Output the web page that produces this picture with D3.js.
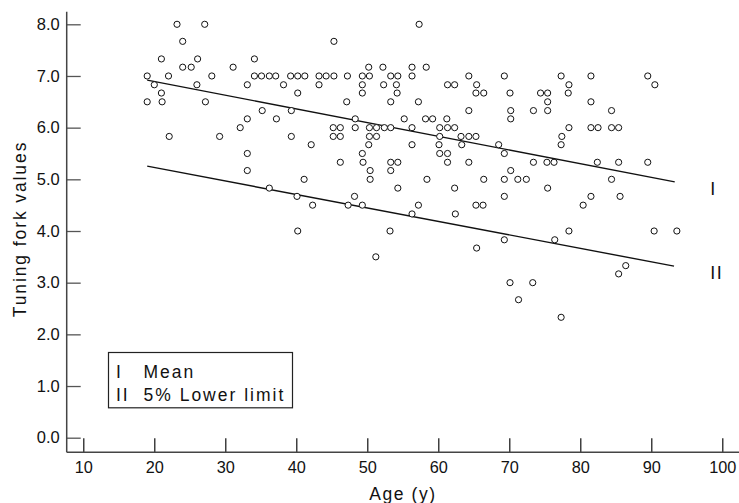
<!DOCTYPE html>
<html>
<head>
<meta charset="utf-8">
<script src="https://cdn.jsdelivr.net/npm/d3@7"></script>
<style>
  body { margin: 0; background: #fff; }
  svg { font-family: "Liberation Sans", Arial, sans-serif; }
</style>
</head>
<body>
<svg id="plotSvg" width="739" height="503"></svg>
<script>
// tuning fork value rows (in sixths) and the ages read at each row
const rowValues = [8.0, 7.67, 7.33, 7.17, 7.0, 6.83, 6.67, 6.5, 6.33, 6.17, 6.0, 5.83, 5.67, 5.5,
    5.33, 5.17, 5.0, 4.83, 4.67, 4.5, 4.33, 4.0, 3.83, 3.67, 3.5, 3.33, 3.17, 3.0, 2.67, 2.33];
const rowAges = [
    [23.2, 27.1, 57.3],
    [24.0, 45.3],
    [21.0, 26.1, 34.1],
    [24.0, 25.2, 31.1, 50.2, 52.2, 56.3, 58.3],
    [19.0, 22.0, 28.1, 34.1, 35.1, 36.2, 37.1, 39.2, 40.2, 41.2, 43.2, 44.2, 45.3, 47.2, 49.3, 50.3, 53.3, 54.3, 56.3, 64.3, 69.3, 77.3, 81.5, 89.5],
    [20.0, 26.0, 33.1, 38.2, 43.2, 49.3, 52.3, 54.1, 61.3, 62.3, 65.4, 78.4, 90.5],
    [21.0, 40.2, 49.3, 54.2, 65.3, 66.4, 70.1, 74.4, 75.4, 78.3],
    [19.0, 21.1, 27.2, 47.1, 53.3, 57.2, 75.4, 81.5],
    [35.2, 39.3, 64.3, 70.2, 73.4, 75.4, 84.4],
    [33.1, 37.2, 48.3, 55.2, 58.2, 59.2, 61.2, 70.2],
    [32.1, 45.2, 46.2, 48.3, 50.3, 51.3, 52.4, 53.3, 56.3, 60.2, 61.3, 62.3, 78.4, 81.5, 82.5, 84.4, 85.4],
    [22.1, 29.2, 39.3, 45.2, 46.2, 50.3, 51.3, 60.2, 63.2, 64.3, 65.3, 77.4],
    [42.1, 50.2, 56.3, 60.1, 63.3, 68.5, 77.3],
    [33.1, 49.3, 60.2, 61.3, 69.3],
    [46.2, 49.4, 53.3, 54.3, 61.3, 64.3, 73.4, 75.3, 76.3, 82.4, 85.4, 89.5],
    [33.1, 50.4, 53.3, 70.2],
    [41.1, 50.4, 58.4, 66.4, 69.3, 71.2, 72.4, 84.4],
    [36.2, 54.3, 62.3, 75.4],
    [40.1, 48.2, 69.3, 81.5, 85.6],
    [42.3, 47.3, 49.3, 57.2, 65.3, 66.3, 80.4],
    [56.3, 62.4],
    [40.2, 53.2, 78.4, 90.4, 93.6],
    [69.3, 76.4],
    [65.4],
    [51.2],
    [86.4],
    [85.4],
    [70.1, 73.3],
    [71.3],
    [77.3]
];

const meanLine = [[19, 6.92], [93.3, 4.95]];
const lowerLine = [[19, 5.255], [93.2, 3.32]];
const lineLabels = ["I", "II"];
const lineLabelVals = [4.816, 3.195];
const legendKeys = ["I", "II"];
const legendTexts = ["Mean", "5% Lower limit"];
const xTicks = [10, 20, 30, 40, 50, 60, 70, 80, 90, 100];
const yTicks = [0, 1, 2, 3, 4, 5, 6, 7, 8];

const points = [];
rowValues.forEach((v, i) => rowAges[i].forEach(a => points.push({ age: a, val: v })));

const svg = d3.select("#plotSvg");

const x = d3.scaleLinear().domain([10, 100]).range([83.3, 722.3]);
const y = d3.scaleLinear().domain([0, 8]).range([437.7, 24.3]);

const axisX = 66.7, axisY = 452.3;

// axes, ticks point inwards
svg.append("g")
    .attr("transform", `translate(${axisX},0)`)
    .call(d3.axisLeft(y).tickValues(yTicks).tickSize(-14).tickPadding(7).tickFormat(d3.format(".1f")))
    .call(g => g.select(".domain").remove())
    .call(g => g.selectAll("line").attr("stroke", "#555").attr("stroke-width", 1.3))
    .call(g => g.selectAll("text").attr("font-size", 16.5).attr("fill", "#111").attr("font-family", null));

svg.append("g")
    .attr("transform", `translate(0,${axisY})`)
    .call(d3.axisBottom(x).tickValues(xTicks).tickSize(-14).tickPadding(9.4))
    .call(g => g.select(".domain").remove())
    .call(g => g.selectAll("line").attr("stroke", "#111").attr("stroke-width", 1.2))
    .call(g => g.selectAll("text").attr("font-size", 16.3).attr("fill", "#111").attr("font-family", null));

svg.append("line")
    .attr("x1", axisX).attr("x2", axisX)
    .attr("y1", 11.7).attr("y2", axisY)
    .attr("stroke", "#444").attr("stroke-width", 1.5);
svg.append("line")
    .attr("x1", axisX).attr("x2", 739)
    .attr("y1", axisY).attr("y2", axisY)
    .attr("stroke", "#444").attr("stroke-width", 1.5);

// regression lines
const line = d3.line().x(d => x(d[0])).y(d => y(d[1]));
[meanLine, lowerLine].forEach(l => {
    svg.append("path")
        .attr("d", line(l))
        .attr("fill", "none")
        .attr("stroke", "#111")
        .attr("stroke-width", 1.4);
});

// scatter
svg.append("g")
    .selectAll("circle")
    .data(points)
    .join("circle")
    .attr("cx", d => x(d.age))
    .attr("cy", d => y(d.val))
    .attr("r", 3.1)
    .attr("fill", "#fff")
    .attr("stroke", "#111")
    .attr("stroke-width", 1);

// line labels
svg.selectAll(".lineLabel")
    .data(lineLabels)
    .join("text")
    .attr("class", "lineLabel")
    .attr("x", x(98.3))
    .attr("y", (d, i) => y(lineLabelVals[i]))
    .attr("dy", "0.36em")
    .attr("font-size", 18)
    .attr("letter-spacing", 1.5)
    .attr("fill", "#111")
    .text(d => d);

// legend
svg.append("rect")
    .attr("x", 108.5).attr("y", 352.5)
    .attr("width", 184).attr("height", 55.3)
    .attr("fill", "#fff")
    .attr("stroke", "#222")
    .attr("stroke-width", 1.2);
legendKeys.forEach((k, i) => {
    svg.append("text")
        .attr("x", 116).attr("y", 378.3 + i * 22.8)
        .attr("font-size", 17.5).attr("letter-spacing", 2).attr("fill", "#111")
        .text(k);
    svg.append("text")
        .attr("x", 143.5).attr("y", 378.3 + i * 22.8)
        .attr("font-size", 17.5).attr("letter-spacing", 2).attr("fill", "#111")
        .text(legendTexts[i]);
});

// axis titles
svg.append("text")
    .attr("transform", `translate(25.5,229) rotate(-90)`)
    .attr("text-anchor", "middle")
    .attr("font-size", 17.5)
    .attr("letter-spacing", 1.9)
    .attr("fill", "#111")
    .text("Tuning fork values");

svg.append("text")
    .attr("x", 403)
    .attr("y", 500)
    .attr("text-anchor", "middle")
    .attr("font-size", 17.5)
    .attr("letter-spacing", 1.6)
    .attr("fill", "#111")
    .text("Age (y)");
</script>
</body>
</html>
